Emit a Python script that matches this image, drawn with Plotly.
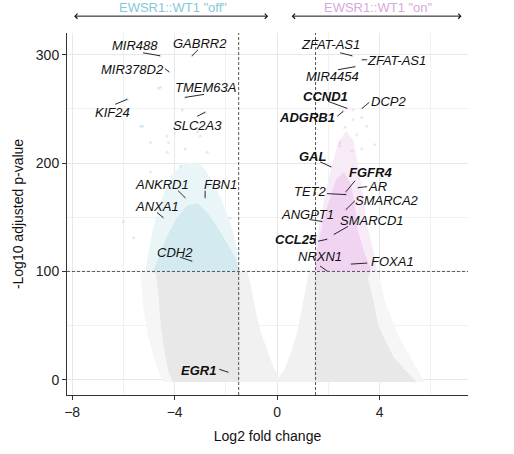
import plotly.graph_objects as go

# ---- data -------------------------------------------------------------
# Labelled genes: log2 fold change and -log10 adjusted p-value
genes = ["MIR488", "GABRR2", "MIR378D2", "TMEM63A", "KIF24", "SLC2A3",
         "ANKRD1", "FBN1", "ANXA1", "CDH2", "EGR1",
         "ZFAT-AS1", "ZFAT-AS1", "MIR4454", "CCND1", "DCP2", "ADGRB1",
         "GAL", "FGFR4", "TET2", "AR", "SMARCA2", "ANGPT1", "SMARCD1",
         "CCL25", "NRXN1", "FOXA1"]
gene_lfc = [-4.57, -3.32, -4.22, -3.59, -5.85, -2.81,
            -3.59, -2.81, -4.45, -3.32, -1.91,
            2.93, 3.32, 3.04, 2.73, 3.32, 2.58,
            2.11, 2.69, 2.69, 3.16, 2.69, 1.76, 2.22,
            1.95, 1.95, 2.89]
gene_padj = [299.0, 299.0, 284.3, 260.6, 258.8, 246.8,
             168.1, 168.1, 149.8, 109.5, 7.0,
             299.0, 295.3, 288.9, 250.5, 250.5, 247.7,
             196.5, 173.6, 170.9, 177.3, 157.1, 146.1, 134.2,
             129.7, 100.4, 106.8]
bold_genes = {"EGR1", "CCND1", "ADGRB1", "GAL", "FGFR4", "CCL25"}

# Envelopes of the dense point clouds (log2FC, -log10 padj)
ns_mid_lfc = [-1.5, -1.5, -1.2, -1.05, -0.86, -0.66, -0.39, -0.15, 0.05, 0.12,
              0.3, 0.58, 0.82, 0.98, 1.15, 1.28, 1.5, 1.5]
ns_mid_p = [-2, 100, 100, 85, 62, 43, 25, 10, 2, 2,
            8, 25, 43, 62, 85, 100, 100, -2]

ns_left_fringe_lfc = [-1.5, -1.5, -5.3, -5.2, -5.0, -4.7, -4.4]
ns_left_fringe_p = [-2, 100, 100, 70, 40, 15, -2]
ns_left_lfc = [-1.5, -1.5, -4.7, -4.6, -4.5, -4.35, -4.2, -4.05]
ns_left_p = [-2, 100, 100, 80, 50, 25, 8, -2]

ns_right_fringe_lfc = [1.5, 1.5, 3.9, 4.2, 4.7, 5.3, 5.7]
ns_right_fringe_p = [-2, 100, 100, 70, 40, 15, -2]
ns_right_lfc = [1.5, 1.5, 3.6, 3.5, 3.7, 3.9, 4.2, 4.5, 4.9, 5.2, 5.4]
ns_right_p = [-2, 100, 100, 94, 75, 51, 35, 21, 10, 3, -2]

off_fringe_lfc = [-1.5, -5.1, -5.0, -4.8, -4.5, -4.1, -3.6, -3.0, -2.6, -2.2, -1.8, -1.55]
off_fringe_p = [100, 100, 115, 140, 165, 188, 200, 198, 185, 165, 140, 115]
off_lfc = [-1.5, -4.8, -4.6, -4.3, -3.9, -3.5, -3.1, -2.7, -2.3, -1.9, -1.6]
off_p = [100, 100, 112, 130, 148, 160, 162, 152, 138, 122, 110]

on_fringe_lfc = [1.5, 1.5, 1.7, 1.95, 2.2, 2.45, 2.7, 2.95, 3.1, 3.3, 3.45, 3.8, 3.85]
on_fringe_p = [100, 118, 145, 175, 200, 220, 228, 220, 200, 175, 145, 110, 100]
on_lfc = [1.52, 1.6, 1.85, 2.1, 2.35, 2.6, 2.85, 3.0, 3.1, 3.4, 3.65]
on_p = [100, 120, 148, 168, 185, 190, 180, 160, 138, 115, 100]

# Scattered genes outside the dense clouds
off_sparse_lfc = [-4.63, -3.7, -5.33, -3.1, -4.3, -4.94, -4.28, -3.58, -6.0, -5.6,
                  -2.72, -1.83, -3.0, -3.77, -4.94, -4.44, -4.55, -5.25, -4.24]
off_sparse_p = [269, 249, 234, 229, 225, 219, 210, 213, 146, 131,
                210, 149, 225, 197, 192, 183, 270, 234, 219]
on_sparse_lfc = [3.3, 2.96, 2.65, 3.1, 2.45, 2.92, 3.5, 3.8, 2.45, 2.96, 3.3]
on_sparse_p = [242, 249, 233, 226, 216, 211, 234, 217, 219, 240, 213]

# ---- label placement (pixel offsets from each gene) -------------------
label_dx = [-25, 8, -36, 20, -15, -8, -23, 15, -6, -17, -30,
            -22, 34, -23, -22, 26, -36, -18, 24, -36, 19, 41, -15, 38, -31, -7, 41]
label_dy = [-10, -12, -2, -10, 13, 13, -13, -13, -11, -9, -2,
            -11, 1, 10, -12, -7, 6, -10, -19, -3, -1, -9, -7, -14, 0, -15, -3]
lead_dx = [-17, 6, -4, 19, -12, -8, -7, 0, -6, -12, -9,
           -12, 5, -17, -19, 7, -6, -11, 9, -19, 9, 9, -13, 14, -9, -7, 16]
lead_dy = [-3, -6, -3, -3, 5, 4, -7, -7, -5, -4, -3,
           -3, 0, 3, -7, -6, 5, -5, -11, -1, -1, -9, -2, -8, 2, -5, -1]

# ---- figure geometry --------------------------------------------------
W, H = 514, 454
M_L, M_R, M_T, M_B = 67, 46, 33, 56
X_RANGE = [-8.2, 7.45]
Y_RANGE = [-14, 320]
px_x = (W - M_L - M_R) / (X_RANGE[1] - X_RANGE[0])
px_y = (H - M_T - M_B) / (Y_RANGE[1] - Y_RANGE[0])

FONT = "Liberation Sans, Arial, sans-serif"

fig = go.Figure()


def cloud(xs, ys, color):
    fig.add_trace(go.Scatter(x=xs, y=ys, mode="lines", fill="toself",
                             fillcolor=color, line=dict(color=color, width=2),
                             hoverinfo="skip", showlegend=False))


cloud(ns_left_fringe_lfc, ns_left_fringe_p, "#f6f6f6")
cloud(ns_right_fringe_lfc, ns_right_fringe_p, "#f6f6f6")
cloud(ns_mid_lfc, ns_mid_p, "#f1f1f1")
cloud(ns_left_lfc, ns_left_p, "#e8e8e8")
cloud(ns_right_lfc, ns_right_p, "#e8e8e8")
cloud(off_fringe_lfc, off_fringe_p, "#eaf5f8")
cloud(off_lfc, off_p, "#d2eaf0")
cloud(on_fringe_lfc, on_fringe_p, "#f8ebf8")
cloud(on_lfc, on_p, "#f0d4f1")

fig.add_trace(go.Scatter(x=off_sparse_lfc, y=off_sparse_p, mode="markers",
                         marker=dict(size=3, color="rgba(150,195,210,0.3)"),
                         hoverinfo="skip", showlegend=False))
fig.add_trace(go.Scatter(x=on_sparse_lfc, y=on_sparse_p, mode="markers",
                         marker=dict(size=3, color="rgba(215,165,220,0.3)"),
                         hoverinfo="skip", showlegend=False))

# labelled genes
pt_colors = ["rgba(150,195,210,0.4)" if v < -1.5 else
             ("rgba(215,165,220,0.4)" if v > 1.5 else "rgba(200,200,200,0.6)")
             for v in gene_lfc]
fig.add_trace(go.Scatter(x=gene_lfc, y=gene_padj, mode="markers",
                         marker=dict(size=3, color=pt_colors),
                         text=genes, hoverinfo="text", showlegend=False))

# leader segments
seg_x, seg_y = [], []
for gx, gy, ldx, ldy in zip(gene_lfc, gene_padj, lead_dx, lead_dy):
    seg_x += [gx, gx + ldx / px_x, None]
    seg_y += [gy, gy - ldy / px_y, None]
fig.add_trace(go.Scatter(x=seg_x, y=seg_y, mode="lines",
                         line=dict(color="#111111", width=0.9),
                         hoverinfo="skip", showlegend=False))

annotations = []
for g, gx, gy, tdx, tdy in zip(genes, gene_lfc, gene_padj, label_dx, label_dy):
    txt = f"<i>{g}</i>"
    if g in bold_genes:
        txt = f"<b>{txt}</b>"
    annotations.append(dict(x=gx, y=gy, xref="x", yref="y", text=txt,
                            showarrow=False, xshift=tdx, yshift=-tdy,
                            xanchor="center", yanchor="middle",
                            font=dict(family=FONT, size=13, color="#111111")))

# group headers with double arrows above the panel
arrow_y = 1 + (M_T - 16) / (H - M_T - M_B)
head_y = 1 + (M_T - 7) / (H - M_T - M_B)
for x0, x1, label, col in [(-7.98, -0.35, 'EWSR1::WT1 "off"', "#86c7d8"),
                           (0.51, 7.2, 'EWSR1::WT1 "on"', "#d7a9da")]:
    annotations.append(dict(x=x1, y=arrow_y, xref="x", yref="paper",
                            ax=x0, ay=0, axref="x", ayref="pixel",
                            showarrow=True, arrowside="end+start", arrowhead=4,
                            arrowsize=1, arrowwidth=1, arrowcolor="#111111",
                            text=""))
    annotations.append(dict(x=(x0 + x1) / 2 + 0.1, y=head_y, xref="x", yref="paper",
                            text=label, showarrow=False, xanchor="center",
                            yanchor="middle",
                            font=dict(family=FONT, size=13, color=col)))

# significance thresholds
shapes = []
for xv in (-1.5, 1.5):
    shapes.append(dict(type="line", xref="x", yref="paper", x0=xv, x1=xv,
                       y0=0, y1=1, layer="above",
                       line=dict(color="#555555", width=1, dash="3px,2px")))
shapes.append(dict(type="line", xref="paper", yref="y", x0=0, x1=1,
                   y0=100, y1=100, layer="above",
                   line=dict(color="#555555", width=1, dash="3px,2px")))

axis_common = dict(showline=True, linecolor="#333333", linewidth=1,
                   ticks="outside", ticklen=4, tickcolor="#333333",
                   showgrid=True, gridcolor="#e8e8e8", gridwidth=1,
                   zeroline=False,
                   tickfont=dict(family=FONT, size=14, color="#222222"))

fig.update_layout(
    width=W, height=H,
    margin=dict(l=M_L, r=M_R, t=M_T, b=M_B),
    paper_bgcolor="white", plot_bgcolor="white",
    font=dict(family=FONT),
    xaxis=dict(range=X_RANGE, tickvals=[-8, -4, 0, 4],
               minor=dict(tickvals=[-6, -2, 2, 6], showgrid=True,
                          gridcolor="#f1f1f1", ticks=""),
               title=dict(text="Log2 fold change", standoff=12,
                          font=dict(family=FONT, size=14, color="#111111")),
               **axis_common),
    yaxis=dict(range=Y_RANGE, tickvals=[0, 100, 200, 300],
               minor=dict(tickvals=[50, 150, 250], showgrid=True,
                          gridcolor="#f1f1f1", ticks=""),
               title=dict(text="-Log10 adjusted p-value", standoff=8,
                          font=dict(family=FONT, size=14, color="#111111")),
               **axis_common),
    annotations=annotations,
    shapes=shapes,
)

fig.write_html("out.html")
